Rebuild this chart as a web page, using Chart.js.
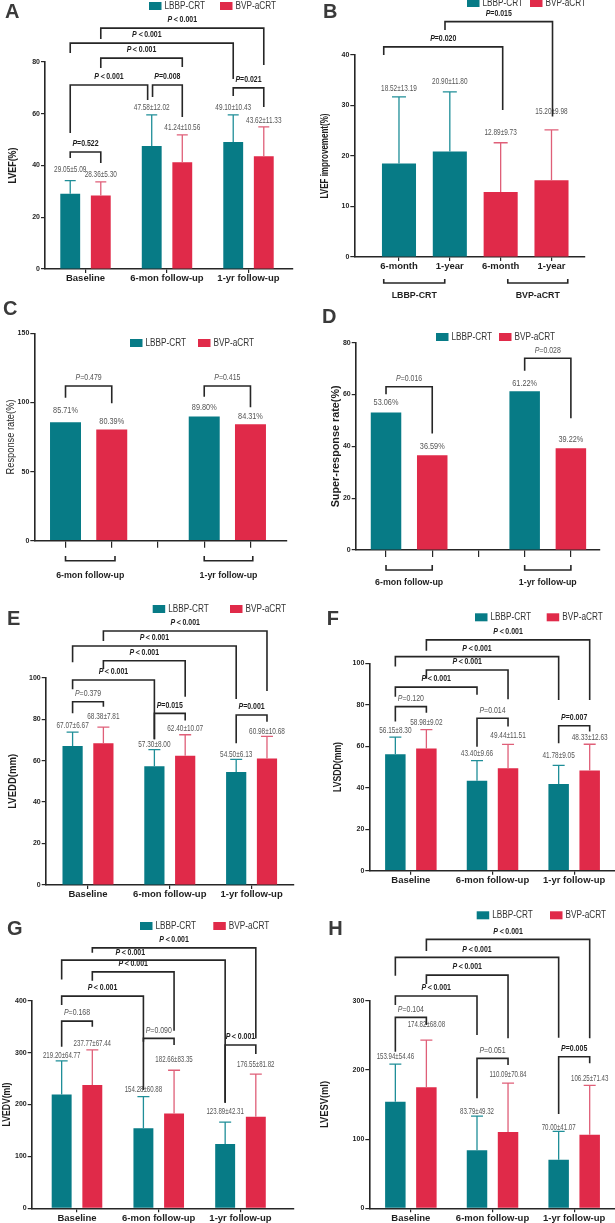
<!DOCTYPE html>
<html>
<head>
<meta charset="utf-8">
<script src="https://cdn.jsdelivr.net/npm/chart.js@4.4.1/dist/chart.umd.min.js"></script>
<style>
  body { margin: 0; background: #fff; }
  #wrap { position: relative; width: 615px; height: 1223px; overflow: hidden; background: #fff; }
  canvas { position: absolute; }
</style>
</head>
<body>
<div id="wrap"></div>
<script>
const FONT = '"Liberation Sans", Arial, Helvetica, sans-serif';
Chart.defaults.font.family = FONT;
Chart.defaults.color = '#222';

const TEAL = '#077b86', RED = '#e02a49';
const TEAL_ERR = '#1f8e98', RED_ERR = '#df5f78';
const INK = '#262626';

// ---- data ----
const visitLabels = ['Baseline', '6-mon follow-up', '1-yr follow-up'];
const seriesNames = ['LBBP-CRT', 'BVP-aCRT'];

const lvefLbbp = [29.05, 47.58, 49.10];
const lvefLbbpSd = [5.09, 12.02, 10.43];
const lvefBvp = [28.36, 41.24, 43.62];
const lvefBvpSd = [5.30, 10.56, 11.33];

const impLabels = ['6-month', '1-year', '6-month', '1-year'];
const impLbbp = [18.52, 20.90];
const impLbbpSd = [13.19, 11.80];
const impBvp = [12.89, 15.20];
const impBvpSd = [9.73, 9.98];

const followLabels = ['6-mon follow-up', '1-yr follow-up'];
const respLbbp = [85.71, 89.80];
const respBvp = [80.39, 84.31];
const superLbbp = [53.06, 61.22];
const superBvp = [36.59, 39.22];

const lveddLbbp = [67.07, 57.30, 54.50];
const lveddLbbpSd = [6.67, 8.00, 6.13];
const lveddBvp = [68.38, 62.40, 60.98];
const lveddBvpSd = [7.81, 10.07, 10.68];

const lvsddLbbp = [56.15, 43.40, 41.78];
const lvsddLbbpSd = [8.30, 9.66, 9.05];
const lvsddBvp = [58.98, 49.44, 48.33];
const lvsddBvpSd = [9.02, 11.51, 12.63];

const lvedvLbbp = [219.20, 154.28, 123.89];
const lvedvLbbpSd = [64.77, 60.88, 42.31];
const lvedvBvp = [237.77, 182.66, 176.55];
const lvedvBvpSd = [67.44, 83.35, 81.82];

const lvesvLbbp = [153.94, 83.79, 70.00];
const lvesvLbbpSd = [54.46, 49.32, 41.07];
const lvesvBvp = [174.82, 110.09, 106.25];
const lvesvBvpSd = [68.08, 70.84, 71.43];

// ---- helpers ----
const meanSd = (v, s) => v.map((m, i) => m.toFixed(2) + '±' + s[i].toFixed(2));
const pct = v => v.map(m => m.toFixed(2) + '%');

function grouped(a, aSd, b, bSd) {
  return {
    sets: [a.map((y, i) => ({ x: i, y })), b.map((y, i) => ({ x: i, y }))],
    sd: [aSd, bSd],
    tags: [meanSd(a, aSd), meanSd(b, bSd)],
    isGrouped: true
  };
}
// bar centres (in x units) of a grouped panel
const sides = cat => [i => i - cat / 4, i => i + cat / 4];

function txt(ctx, s, x, y, o) {
  ctx.save();
  ctx.font = (o.italic ? 'italic ' : '') + (o.bold ? 'bold ' : '') + o.size + 'px ' + FONT;
  ctx.fillStyle = o.color || '#333';
  ctx.textBaseline = o.base || 'middle';
  ctx.textAlign = o.align || 'center';
  const w = ctx.measureText(s).width;
  const k = o.fit ? o.fit / w : (o.sq || 1);
  ctx.translate(x, y);
  if (o.rot) ctx.rotate(o.rot);
  ctx.scale(k, 1);
  ctx.fillText(s, 0, 0);
  ctx.restore();
}

function pLabel(ctx, s, x, y, bold) {
  const w = bold ? 'bold ' : '';
  const rest = s.slice(1).replace('<', '＜');
  ctx.save();
  ctx.font = 'italic ' + w + '8.5px ' + FONT;
  const w1 = ctx.measureText('P').width;
  ctx.font = w + '8.5px ' + FONT;
  const w2 = ctx.measureText(rest).width;
  ctx.translate(x, y);
  ctx.scale(0.82, 1);
  ctx.fillStyle = bold ? '#1e1e1e' : '#555';
  ctx.textBaseline = 'middle';
  ctx.textAlign = 'left';
  const x0 = -(w1 + w2) / 2;
  ctx.font = 'italic ' + w + '8.5px ' + FONT;
  ctx.fillText('P', x0, 0);
  ctx.font = w + '8.5px ' + FONT;
  ctx.fillText(rest, x0 + w1, 0);
  ctx.restore();
}

function deco(p) {
  return {
    id: 'deco' + p.letter,
    afterDraw(chart) {
      const ctx = chart.ctx, xs = chart.scales.x, ys = chart.scales.y, area = chart.chartArea;

      // error bars and the numbers above each bar
      chart.data.datasets.forEach((ds, d) => {
        chart.getDatasetMeta(d).data.forEach((bar, i) => {
          let top = bar.y;
          if (p.sd) {
            top = ys.getPixelForValue(ds.data[i].y + p.sd[d][i]);
            ctx.save();
            ctx.strokeStyle = d ? RED_ERR : TEAL_ERR;
            ctx.lineWidth = 1.3;
            ctx.beginPath();
            ctx.moveTo(bar.x, bar.y);
            ctx.lineTo(bar.x, top);
            ctx.moveTo(bar.x - p.cap / 2, top);
            ctx.lineTo(bar.x + p.cap / 2, top);
            ctx.stroke();
            ctx.restore();
          }
          txt(ctx, p.tags[d][i], bar.x, top - p.gaps[d][i], { size: 8.5, sq: p.tagSq, color: '#555' });
        });
      });

      // significance brackets
      ctx.save();
      ctx.strokeStyle = INK;
      ctx.lineWidth = 1.6;
      ctx.lineJoin = 'miter';
      p.brackets.forEach(b => {
        const x1 = xs.getPixelForValue(b[0]), x2 = xs.getPixelForValue(b[1]);
        const yt = ys.getPixelForValue(b[2]);
        ctx.beginPath();
        ctx.moveTo(x1, ys.getPixelForValue(b[3]));
        ctx.lineTo(x1, yt);
        ctx.lineTo(x2, yt);
        ctx.lineTo(x2, ys.getPixelForValue(b[4]));
        ctx.stroke();
        const at = b[7] === undefined ? 0.5 : b[7];
        pLabel(ctx, b[5], x1 + (x2 - x1) * at, yt - 8, b[6]);
      });

      // group brackets under the x axis
      if (p.groups) {
        const [off, leg, lab] = p.groupY;
        p.groups.forEach(g => {
          const x1 = xs.getPixelForValue(g[0]), x2 = xs.getPixelForValue(g[1]);
          const y = area.bottom + off;
          ctx.beginPath();
          ctx.moveTo(x1, y - leg);
          ctx.lineTo(x1, y);
          ctx.lineTo(x2, y);
          ctx.lineTo(x2, y - leg);
          ctx.stroke();
          txt(ctx, g[2], (x1 + x2) / 2, area.bottom + lab, { size: 9.5, bold: true, sq: 0.93, color: '#1e1e1e' });
        });
      }
      ctx.restore();

      // legend
      const [lx1, lx2, ly] = p.legend;
      [[lx1, TEAL], [lx2, RED]].forEach(([x, c], k) => {
        ctx.fillStyle = c;
        ctx.fillRect(x, ly - 4, 12.5, 8);
        txt(ctx, seriesNames[k], x + 15.5, ly, { size: 10, fit: 40.5, align: 'left', color: '#333' });
      });

      // axis title and panel letter
      txt(ctx, p.title, p.titleX, (area.top + area.bottom) / 2,
        { size: 10, bold: p.titleBold, rot: -Math.PI / 2, fit: p.titleFit, color: '#1e1e1e' });
      txt(ctx, p.letter, p.letterPos[0], p.letterPos[1],
        { size: 20, bold: true, align: 'left', base: 'alphabetic', color: '#3a3a3a' });
    }
  };
}

// ---- panels ----
const panels = [];

(() => {
  const cat = 0.75, [T, R] = sides(cat);
  panels.push(Object.assign({
    letter: 'A', box: [0, 0, 305, 300], yW: 45, padTop: 62, padRight: 12, xH: 31,
    xMin: -0.497, xMax: 2.546, yMax: 80, yStep: 20,
    title: 'LVEF(%)', titleX: 13, titleFit: 36, titleBold: true,
    letterPos: [5, 18], legend: [149, 220, 6], cat, bar: 0.65, cap: 11, tickLen: 4,
    ticks: [0, 1, 2], tickText: visitLabels, tagSq: 0.76,
    gaps: [[11, 7, 7], [7, 7, 6]],
    brackets: [
      [T(0), R(0), 45.2, 42.9, 41.0, 'P=0.522', true],
      [T(0), T(1) - 0.05, 71.1, 52.6, 65.3, 'P<0.001', true],
      [T(1) + 0.01, R(1), 71.1, 66.5, 58.7, 'P=0.008', true],
      [R(0), R(1), 81.5, 77.7, 78.1, 'P<0.001', true],
      [T(0), T(2), 87.3, 83.5, 73.4, 'P<0.001', true, 0.47],
      [R(0), R(2), 93.1, 88.9, 78.8, 'P<0.001', true],
      [T(2), R(2), 70.0, 66.9, 62.6, 'P=0.021', true]
    ]
  }, grouped(lvefLbbp, lvefLbbpSd, lvefBvp, lvefBvpSd)));
})();

panels.push({
  letter: 'B', box: [305, 0, 310, 300], yW: 49.3, padTop: 55, padRight: 30, xH: 43,
  xMin: -0.879, xMax: 3.659, yMax: 40, yStep: 10,
  title: 'LVEF improvement(%)', titleX: 20, titleFit: 85, titleBold: true,
  letterPos: [18, 18], legend: [162, 225, 3], bar: 0.67, cap: 14, tickLen: 4,
  ticks: [0, 1, 2, 3], tickText: impLabels, tagSq: 0.76,
  sets: [impLbbp.map((y, i) => ({ x: i, y })), impBvp.map((y, i) => ({ x: i + 2, y }))],
  sd: [impLbbpSd, impBvpSd],
  tags: [meanSd(impLbbp, impLbbpSd), meanSd(impBvp, impBvpSd)],
  gaps: [[8, 10], [10, 18]],
  brackets: [
    [-0.30, 2.04, 41.6, 40.0, 29.1, 'P=0.020', true],
    [0.905, 3.02, 46.6, 44.95, 27.8, 'P=0.015', true]
  ],
  groups: [[-0.30, 0.90, 'LBBP-CRT'], [2.14, 3.32, 'BVP-aCRT']],
  groupY: [26, 4, 38]
});

panels.push({
  letter: 'C', box: [0, 300, 305, 300], yW: 34.3, padTop: 33.3, padRight: 18, xH: 59.3,
  xMin: -0.675, xMax: 4.79, yMax: 150, yStep: 50,
  title: 'Response rate(%)', titleX: 11, titleFit: 75, titleBold: false,
  letterPos: [3, 15], legend: [130, 198, 43], bar: 0.67, tickLen: 7,
  ticks: [0, 1, 2, 3, 4], tickText: ['', '', '', '', ''], tagSq: 0.86,
  sets: [respLbbp.map((y, i) => ({ x: 3 * i, y })), respBvp.map((y, i) => ({ x: 3 * i + 1, y }))],
  tags: [pct(respLbbp), pct(respBvp)],
  gaps: [[12, 9], [8, 7.5]],
  brackets: [
    [0, 1, 111.9, 103.4, 99.4, 'P=0.479', false],
    [3, 4, 111.9, 104.1, 96.5, 'P=0.415', false]
  ],
  groups: [[0, 1.07, followLabels[0]], [3, 4.05, followLabels[1]]],
  groupY: [20, 4.7, 34.6]
});

panels.push({
  letter: 'D', box: [305, 300, 310, 300], yW: 50.7, padTop: 42.7, padRight: 15, xH: 50,
  xMin: -0.656, xMax: 4.63, yMax: 80, yStep: 20,
  title: 'Super-response rate(%)', titleX: 31.7, titleFit: 122, titleBold: true,
  letterPos: [17, 23], legend: [131, 194, 37], bar: 0.66, tickLen: 7,
  ticks: [0, 1, 2, 3, 4], tickText: ['', '', '', '', ''], tagSq: 0.86,
  sets: [superLbbp.map((y, i) => ({ x: 3 * i, y })), superBvp.map((y, i) => ({ x: 3 * i + 1, y }))],
  tags: [pct(superLbbp), pct(superBvp)],
  gaps: [[10, 8], [8.5, 9]],
  brackets: [
    [0, 1, 63.0, 60.1, 45.0, 'P=0.016', false],
    [3, 4, 74.0, 69.2, 50.8, 'P=0.028', false]
  ],
  groups: [[0, 1, followLabels[0]], [3, 4, followLabels[1]]],
  groupY: [20, 5, 32.7]
});

(() => {
  const cat = 0.753, [T, R] = sides(cat);
  panels.push(Object.assign({
    letter: 'E', box: [0, 600, 305, 310], yW: 45.7, padTop: 77.7, padRight: 11.7, xH: 25,
    xMin: -0.517, xMax: 2.51, yMax: 100, yStep: 20,
    title: 'LVEDD(mm)', titleX: 13.3, titleFit: 55, titleBold: true,
    letterPos: [7, 25], legend: [152.7, 230, 9], cat, bar: 0.656, cap: 12, tickLen: 4,
    ticks: [0, 1, 2], tickText: visitLabels, tagSq: 0.76,
    gaps: [[6, 5, 5], [10, 6, 5]],
    brackets: [
      [T(0), R(0), 88.4, 82.8, 86.0, 'P=0.379', false],
      [T(0), T(1), 98.9, 94.4, 70.3, 'P<0.001', true],
      [R(0), R(1), 108.2, 104.2, 90.8, 'P<0.001', true],
      [T(0), T(2), 115.3, 107.4, 89.7, 'P<0.001', true],
      [R(0), R(2), 122.5, 117.7, 93.6, 'P<0.001', true],
      [T(1), R(1), 82.8, 70.3, 79.3, 'P=0.015', true],
      [T(2), R(2), 82.0, 68.4, 78.8, 'P=0.001', true]
    ]
  }, grouped(lveddLbbp, lveddLbbpSd, lveddBvp, lveddBvpSd)));
})();

(() => {
  const cat = 0.76, [T, R] = sides(cat);
  panels.push(Object.assign({
    letter: 'F', box: [305, 600, 310, 310], yW: 64.3, padTop: 63.3, padRight: 0, xH: 39.3,
    xMin: -0.509, xMax: 2.50, yMax: 100, yStep: 20,
    title: 'LVSDD(mm)', titleX: 33.3, titleFit: 50, titleBold: true,
    letterPos: [21.7, 25], legend: [170, 241.7, 17.3], cat, bar: 0.66, cap: 12, tickLen: 4,
    ticks: [0, 1, 2], tickText: visitLabels, tagSq: 0.76,
    gaps: [[6.5, 6.5, 10], [7, 9, 7]],
    brackets: [
      [T(0), R(0), 79.1, 71.9, 76.2, 'P=0.120', false],
      [T(0), T(1), 88.5, 83.9, 84.8, 'P<0.001', true],
      [R(0), R(1), 96.8, 92.5, 82.7, 'P<0.001', true],
      [T(0), T(2), 103.2, 98.4, 82.3, 'P<0.001', true],
      [R(0), R(2), 111.3, 106.0, 82.3, 'P<0.001', true],
      [T(1), R(1), 73.5, 59.8, 69.5, 'P=0.014', false],
      [T(2), R(2), 69.9, 61.5, 67.1, 'P=0.007', true]
    ]
  }, grouped(lvsddLbbp, lvsddLbbpSd, lvsddBvp, lvsddBvpSd)));
})();

(() => {
  const cat = 0.75, [T, R] = sides(cat);
  panels.push(Object.assign({
    letter: 'G', box: [0, 910, 305, 313], yW: 31.7, padTop: 90.7, padRight: 11.7, xH: 14.7,
    xMin: -0.554, xMax: 2.646, yMax: 400, yStep: 100,
    title: 'LVEDV(ml)', titleX: 7, titleFit: 44, titleBold: true,
    letterPos: [7, 25], legend: [140, 213.3, 16], cat, bar: 0.65, cap: 12, tickLen: 4,
    ticks: [0, 1, 2], tickText: visitLabels, tagSq: 0.72,
    gaps: [[5, 6.5, 10], [6.5, 11, 10]],
    brackets: [
      [T(0), R(0), 360.7, 311.2, 349.7, 'P=0.168', false],
      [T(0), T(1), 408.8, 391.5, 320.8, 'P<0.001', true],
      [T(1), R(1), 327.4, 227.8, 314.5, 'P=0.090', false],
      [R(0), R(1), 455.6, 438.3, 342.0, 'P<0.001', true],
      [T(0), T(2), 478.1, 441.0, 203.4, 'P<0.001', true, 0.42],
      [R(0), R(2), 501.8, 492.2, 327.4, 'P<0.001', true],
      [T(2), R(2), 314.5, 203.4, 297.1, 'P<0.001', true]
    ]
  }, grouped(lvedvLbbp, lvedvLbbpSd, lvedvBvp, lvedvBvpSd)));
})();

(() => {
  const cat = 0.76, [T, R] = sides(cat);
  panels.push(Object.assign({
    letter: 'H', box: [305, 910, 310, 313], yW: 64.3, padTop: 90.7, padRight: 0, xH: 14.7,
    xMin: -0.509, xMax: 2.50, yMax: 300, yStep: 100,
    title: 'LVESV(ml)', titleX: 20.7, titleFit: 47, titleBold: true,
    letterPos: [23.3, 25], legend: [171.7, 245, 5.3], cat, bar: 0.66, cap: 12, tickLen: 4,
    ticks: [0, 1, 2], tickText: visitLabels, tagSq: 0.72,
    gaps: [[7, 4.5, 4], [16, 8, 7]],
    brackets: [
      [T(0), R(0), 275.9, 226.2, 264.8, 'P=0.104', false],
      [T(0), T(1), 306.7, 293.7, 250.4, 'P<0.001', true],
      [R(0), R(1), 337.0, 324.0, 245.6, 'P<0.001', true],
      [T(0), T(2), 362.6, 336.0, 246.5, 'P<0.001', true],
      [R(0), R(2), 388.6, 371.7, 245.6, 'P<0.001', true],
      [T(1), R(1), 216.7, 158.9, 207.0, 'P=0.051', false],
      [T(2), R(2), 219.0, 136.2, 209.5, 'P=0.005', true]
    ]
  }, grouped(lvesvLbbp, lvesvLbbpSd, lvesvBvp, lvesvBvpSd)));
})();

// ---- build charts ----
const wrap = document.getElementById('wrap');
panels.forEach(p => {
  const canvas = document.createElement('canvas');
  canvas.width = p.box[2];
  canvas.height = p.box[3];
  canvas.style.left = p.box[0] + 'px';
  canvas.style.top = p.box[1] + 'px';
  wrap.appendChild(canvas);

  const datasets = p.sets.map((data, d) => ({
    label: seriesNames[d],
    data,
    backgroundColor: d ? RED : TEAL,
    borderWidth: 0,
    grouped: !!p.isGrouped,
    categoryPercentage: p.isGrouped ? p.cat : 1,
    barPercentage: p.bar
  }));

  new Chart(canvas, {
    type: 'bar',
    data: { datasets },
    options: {
      responsive: false,
      animation: false,
      events: [],
      layout: { padding: { top: p.padTop, right: p.padRight, left: 0, bottom: 0 } },
      plugins: { legend: { display: false }, tooltip: { enabled: false } },
      scales: {
        x: {
          type: 'linear',
          min: p.xMin,
          max: p.xMax,
          bounds: 'data',
          offset: false,
          grid: { drawOnChartArea: false, offset: false, tickLength: p.tickLen, color: INK, lineWidth: 1.2 },
          border: { color: INK, width: 1.6 },
          afterBuildTicks: s => { s.ticks = p.ticks.map(v => ({ value: v })); },
          afterFit: s => { s.height = p.xH; },
          ticks: {
            callback: (v, i) => p.tickText[i],
            font: { size: 9.5, weight: 'bold' },
            color: '#1e1e1e',
            padding: 0,
            maxRotation: 0,
            autoSkip: false
          }
        },
        y: {
          min: 0,
          max: p.yMax,
          grid: { drawOnChartArea: false, tickLength: 4, color: INK, lineWidth: 1.2 },
          border: { color: INK, width: 1.6 },
          afterFit: s => { s.width = p.yW; },
          ticks: { stepSize: p.yStep, font: { size: 7, weight: 'bold' }, color: '#1e1e1e', padding: 1 }
        }
      }
    },
    plugins: [deco(p)]
  });
});
</script>
</body>
</html>
